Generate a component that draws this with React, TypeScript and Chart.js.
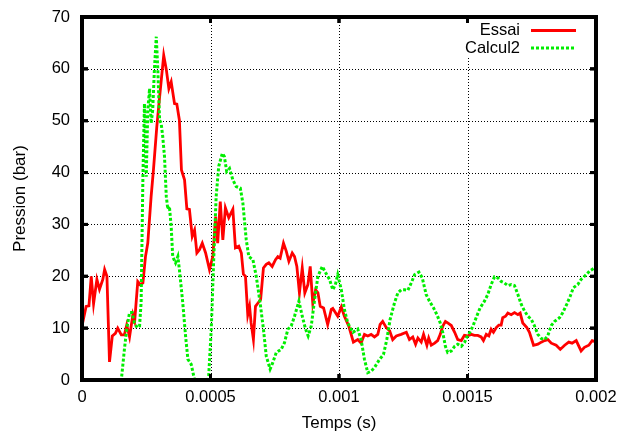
import React, { useEffect, useRef } from "react";
import { Chart, registerables } from "chart.js";

Chart.register(...registerables);

// Time in microseconds, pressure in bar
const essaiTimeUs = [
  0, 16, 27, 36, 45, 58, 68, 81, 88, 97, 107, 118, 130, 139, 153, 165, 174, 185, 198, 205,
  217, 227, 237, 247, 256, 269, 278, 291, 302, 318, 328, 338, 347, 360, 369, 379, 387, 399, 408, 418,
  429, 438, 447, 457, 468, 481, 496, 509, 520, 528, 538, 548, 558, 571, 587, 597, 610, 620, 628, 636,
  645, 652, 658, 667, 675, 684, 695, 706, 717, 727, 740, 753, 762, 771, 784, 795, 805, 818, 827, 836,
  846, 857, 867, 879, 888, 898, 909, 918, 927, 940, 956, 970,
  976, 995, 1009, 1021, 1038, 1056, 1073, 1086, 1099, 1112, 1125, 1138, 1151, 1160, 1170, 1184, 1197, 1209, 1223,
  1242, 1262, 1274, 1287, 1298, 1307, 1320, 1329, 1342, 1349, 1359, 1372, 1384, 1394, 1404, 1414, 1423, 1437, 1450, 1462,
  1476, 1488, 1501, 1514, 1527, 1540, 1553, 1562, 1573, 1583, 1592, 1601, 1612, 1622, 1631, 1637, 1648, 1657, 1670, 1683,
  1696, 1705, 1715, 1731, 1741, 1757, 1774, 1787, 1800, 1813, 1826, 1845, 1861, 1878, 1894, 1907, 1923, 1942, 1955, 1972,
  1985, 2000,
];
const essaiBar = [
  10.4, 14.2, 14.3, 20, 14.7, 19.4, 17.5, 19.4, 21.3, 20, 3.5, 8.5, 9, 10, 8.7, 8.7, 10.6, 8.3, 12.6, 11.4,
  19, 18.4, 18.7, 23.8, 26.4, 35.4, 40.5, 48.8, 54.6, 62.6, 59.9, 56.2, 57.5, 53.3, 53.2, 50.1, 40.5, 38.6, 33, 32.9,
  27.7, 28.9, 24.5, 25.1, 26.4, 24.5, 21.3, 23.8, 31.5, 26.4, 34.4, 27, 33.2, 31.3, 32.9, 25.5, 25.8, 24.5, 20.4, 20,
  12.6, 14.2, 11, 7.8, 14.2, 14.8, 15.5, 21.6, 22.3, 22.6, 21.9, 23.2, 23.8, 23.5, 26.4, 24.8, 22.9, 24.5, 23.8, 21.9,
  16.8, 21.6, 16.8, 18.4, 21.9, 14.8, 17.4, 16.8, 14.2, 13.9, 10.7, 13.6,
  13.8, 12.3, 14.1, 12.3, 10.4, 7.3, 7.8, 7.1, 8.8, 8.5, 8.8, 8.3, 8.8, 10.7, 11.3, 10.1, 9.5, 7.8, 8.5,
  8.8, 9.2, 7.8, 8.3, 6.9, 8.1, 7.3, 8.8, 6.7, 8.1, 6.7, 7.1, 7.6, 8.8, 10.4, 11.3, 11, 10.5, 9.2, 7.8,
  7.6, 8.6, 8.5, 8.8, 8.6, 8.6, 8.3, 7.6, 8.8, 8.5, 9.8, 9.2, 10.1, 10.6, 10.6, 12, 12.3, 12.9, 12.6, 13,
  12.6, 12.9, 11, 10.1, 9.2, 6.7, 6.9, 7.3, 7.6, 7.8, 7.1, 6.7, 5.9, 6.7, 7.3, 7.1, 7.6, 5.6, 6.3, 6.7,
  7.6, 7.3,
];

const calculTimeUs = [
  134, 153, 165, 174, 185, 195, 204, 215, 224, 230, 237, 243, 250, 256, 263, 269, 275, 282, 289, 295,
  302, 308, 314, 321, 328, 334, 340, 347, 353, 364, 373, 379, 392, 403, 412, 425, 438, 465, 493, 503,
  512, 522, 532, 546, 554, 563, 574, 587, 600, 616, 626, 639, 649, 665, 678, 693, 706, 717, 732, 742,
  756, 775, 788, 801, 814, 827, 844, 857, 870, 880, 892, 905, 918, 935, 948, 963, 976, 986, 995, 1009,
  1021, 1034, 1054, 1073, 1086, 1099, 1112, 1125, 1138, 1158, 1173, 1186, 1199, 1216, 1229, 1242, 1255, 1268, 1281, 1294,
  1311, 1324, 1339, 1352, 1368, 1381, 1394, 1404, 1414, 1423, 1437, 1450, 1462, 1476, 1488, 1497, 1508, 1521, 1536, 1549,
  1566, 1579, 1592, 1605, 1618, 1631, 1644, 1657, 1670, 1683, 1696, 1709, 1722, 1735, 1748, 1761, 1774, 1787, 1800, 1812,
  1826, 1839, 1858, 1871, 1886, 1900, 1912, 1929, 1942, 1962, 1975, 2000,
];
const calculBar = [
  -6, 0, 5.9, 9.8, 13, 13, 11, 10.1, 10.4, 14.9, 39.2, 53.3, 39.2, 52, 56.2, 49.5, 52, 60.1, 66.2, 59.8,
  50.1, 49.5, 47, 43.1, 35.4, 32.9, 33.5, 29.6, 23.8, 22.6, 23.8, 21.3, 14.9, 8.5, 4, 3, 0, -6, 0.8, 9.8,
  22.6, 35.4, 41.2, 43.7, 43.1, 40.2, 40.8, 38.6, 37.3, 37, 34.1, 27.1, 23.8, 23.2, 20, 14.9, 9.8, 4.6, 2.1, 3.3,
  5.3, 5.9, 7.2, 9.8, 10.4, 12.3, 15.2, 12.3, 9.8, 8.5, 10.4, 15.5, 20, 21.9, 20.7, 19.4, 17.4, 18.4, 20.3, 17.4,
  13.6, 11, 9.2, 9.8, 7.8, 4, 1.4, 1.7, 2.4, 4, 4.9, 7.8, 11.7, 14.9, 16.8, 17.4, 17.4, 17.3, 18.7, 20.3,
  20.8, 19.7, 16.5, 15.2, 13.9, 12.6, 11, 9.1, 6.5, 5.3, 5.6, 6.5, 6.9, 6.5, 7.2, 8.2, 9.1, 10.4, 12.3, 13.9,
  15.2, 16.5, 18.4, 19.9, 19.7, 19, 18.7, 18.2, 18.4, 18.2, 16.5, 14.6, 13.3, 12.3, 11.7, 10.4, 8.8, 8, 7.8, 8.5,
  10.5, 11.3, 12, 13, 14.6, 16.2, 17.8, 18.4, 19.4, 20.3, 21, 21.8,
];

const xTickValues = [0, 0.0005, 0.001, 0.0015, 0.002];
const xTickLabels = ["0", "0.0005", "0.001", "0.0015", "0.002"];
const yTickValues = [0, 10, 20, 30, 40, 50, 60, 70];
const seriesNames = ["Essai", "Calcul2"];
const RED = "#ff0000";
const GREEN = "#00ee00";
const FONT = "'Liberation Sans', Arial, Helvetica, sans-serif";

function drawFrameAndTicks(chart: any, withFrame: boolean) {
  const { ctx, chartArea: a, scales } = chart;
  const L = a.left, R = a.right, T = a.top, B = a.bottom;
  ctx.fillStyle = "#000000";
  if (withFrame) {
    ctx.fillRect(L - 2, T - 2, R - L + 4, 4);
    ctx.fillRect(L - 2, B - 2, R - L + 4, 4);
    ctx.fillRect(L - 2, T - 2, 4, B - T + 4);
    ctx.fillRect(R - 2, T - 2, 4, B - T + 4);
  }
  xTickValues.forEach((v) => {
    const px = scales.x.getPixelForValue(v);
    ctx.fillRect(px - 1.5, B - 6, 3, 6);
    ctx.fillRect(px - 1.5, T, 3, 6);
  });
  yTickValues.forEach((v) => {
    const py = scales.y.getPixelForValue(v);
    ctx.fillRect(L, py - 1.5, 6, 3);
    ctx.fillRect(R - 6, py - 1.5, 6, 3);
  });
}

const gnuplotPlugin = {
  id: "gnuplotLook",
  beforeDatasetsDraw(chart: any) {
    const { ctx, chartArea: a, scales } = chart;
    ctx.save();
    // dotted grid
    ctx.strokeStyle = "#000000";
    ctx.lineWidth = 1;
    ctx.setLineDash([1, 2]);
    xTickValues.slice(1, -1).forEach((v) => {
      const px = Math.round(scales.x.getPixelForValue(v)) + 0.5;
      ctx.beginPath();
      ctx.moveTo(px, a.bottom);
      ctx.lineTo(px, a.top);
      ctx.stroke();
    });
    yTickValues.slice(1, -1).forEach((v) => {
      const py = Math.round(scales.y.getPixelForValue(v)) + 0.5;
      ctx.beginPath();
      ctx.moveTo(a.left, py);
      ctx.lineTo(a.right, py);
      ctx.stroke();
    });
    ctx.setLineDash([]);
    // legend box
    ctx.fillStyle = "#ffffff";
    ctx.fillRect(430, a.top, a.right - 430, 40);
    drawFrameAndTicks(chart, true);
    // legend
    ctx.font = "16.5px " + FONT;
    ctx.fillStyle = "#000000";
    ctx.textAlign = "right";
    ctx.textBaseline = "middle";
    ctx.fillText(seriesNames[0], 520, 30.5);
    ctx.fillText(seriesNames[1], 520, 48);
    ctx.lineWidth = 3;
    ctx.strokeStyle = RED;
    ctx.beginPath();
    ctx.moveTo(531, 30.5);
    ctx.lineTo(576, 30.5);
    ctx.stroke();
    ctx.strokeStyle = GREEN;
    ctx.setLineDash([3, 2]);
    ctx.beginPath();
    ctx.moveTo(531, 48);
    ctx.lineTo(576, 48);
    ctx.stroke();
    ctx.restore();
  },
  afterDraw(chart: any) {
    const { ctx } = chart;
    for (let i = 0; i < 8; i++) ctx.restore();
    ctx.save();
    ctx.setLineDash([]);
    ctx.globalAlpha = 1;
    drawFrameAndTicks(chart, true);
    ctx.restore();
  },
};

const frameAxis = (position: string, isX: boolean) => ({
  type: "linear",
  position,
  min: isX ? 0 : 0,
  max: isX ? 0.002 : 70,
  display: true,
  grid: { display: false, drawTicks: false, lineWidth: 4 },
  border: { display: true, width: 4, color: "#000000" },
  ticks: { display: false },
  afterFit: (s: any) => {
    if (isX) s.height = 0;
    else s.width = 0;
    s.paddingLeft = 0;
    s.paddingRight = 0;
    s.paddingTop = 0;
    s.paddingBottom = 0;
  },
});

export default function App() {
  const canvasRef = useRef<HTMLCanvasElement | null>(null);

  useEffect(() => {
    if (!canvasRef.current) return;
    const essaiData = essaiTimeUs.map((t, i) => ({ x: t / 1e6, y: essaiBar[i] }));
    const calculData = calculTimeUs.map((t, i) => ({ x: t / 1e6, y: calculBar[i] }));
    const chart = new Chart(canvasRef.current, {
      type: "line",
      data: {
        datasets: [
          {
            label: seriesNames[1],
            data: calculData,
            borderColor: GREEN,
            borderWidth: 3,
            borderDash: [3, 2],
            pointRadius: 0,
            tension: 0,
            clip: -2,
          },
          {
            label: seriesNames[0],
            data: essaiData,
            borderColor: RED,
            borderWidth: 2.8,
            pointRadius: 0,
            tension: 0,
            clip: -2,
          },
        ],
      },
      options: {
        animation: false,
        responsive: false,
        devicePixelRatio: 1,
        layout: { padding: { top: 17, right: 25, left: 0, bottom: 0 } },
        plugins: { legend: { display: false }, tooltip: { enabled: false } },
        scales: {
          x: {
            type: "linear",
            position: "bottom",
            min: 0,
            max: 0.002,
            grid: { display: false, drawTicks: false, lineWidth: 4 },
            border: { display: true, width: 4, color: "#000000" },
            afterBuildTicks: (s: any) => {
              s.ticks = xTickValues.map((v) => ({ value: v }));
            },
            afterFit: (s: any) => {
              s.height = 55;
              s.paddingLeft = 0;
              s.paddingRight = 0;
            },
            ticks: {
              autoSkip: false,
              maxRotation: 0,
              padding: 8,
              color: "#000",
              font: { family: FONT, size: 16.5 },
              callback: (_v: any, i: number) => xTickLabels[i],
            },
            title: {
              display: true,
              text: "Temps (s)",
              color: "#000",
              font: { family: FONT, size: 17 },
              padding: { top: 0, bottom: 1 },
            },
          },
          y: {
            type: "linear",
            position: "left",
            min: 0,
            max: 70,
            grid: { display: false, drawTicks: false, lineWidth: 4 },
            border: { display: true, width: 4, color: "#000000" },
            afterBuildTicks: (s: any) => {
              s.ticks = yTickValues.map((v) => ({ value: v }));
            },
            afterFit: (s: any) => {
              s.width = 82;
              s.paddingTop = 0;
              s.paddingBottom = 0;
            },
            ticks: {
              padding: 12,
              color: "#000",
              font: { family: FONT, size: 16.5 },
              callback: (v: any) => String(v),
            },
            title: {
              display: true,
              text: "Pression (bar)",
              color: "#000",
              font: { family: FONT, size: 17 },
              padding: { top: 10, bottom: 0 },
            },
          },
          xTop: frameAxis("top", true),
          yRight: frameAxis("right", false),
        },
      } as any,
      plugins: [gnuplotPlugin],
    });
    return () => chart.destroy();
  }, []);

  return (
    <div style={{ position: "fixed", left: 0, top: 0, width: 621, height: 435, background: "#fff" }}>
      <canvas ref={canvasRef} width={621} height={435} />
    </div>
  );
}
